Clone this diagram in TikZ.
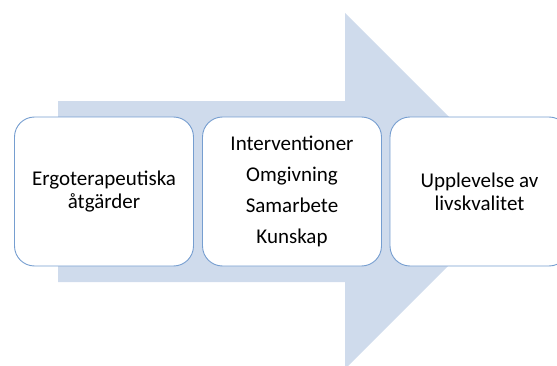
\documentclass[tikz,border=0pt]{standalone}
\usepackage{fontspec}
\setmainfont{Carlito}
\definecolor{arrowfill}{RGB}{207,219,236}
\definecolor{boxline}{RGB}{118,158,208}
\tikzset{
  stagebox/.style={draw=boxline, line width=0.9pt, fill=white, rounded corners=20pt,
    minimum width=179pt, minimum height=149pt, align=center, inner sep=0pt,
    font=\fontsize{21}{23}\selectfont, text=black},
}
\begin{document}
\begin{tikzpicture}[x=1pt,y=1pt]
\useasboundingbox (0,0) rectangle (557,365);
\clip (0,0) rectangle (557,365);
\fill[arrowfill] (58,264) -- (345,264) -- (345,352) -- (523,174) -- (345,-4) -- (345,83) -- (58,83) -- cycle;
\node[stagebox] (a) at (104,173.5) {Ergoterapeutiska\\åtgärder};
\node[stagebox] (b) at (292,173.5) {Interventioner\\[8pt]Omgivning\\[8pt]Samarbete\\[8pt]Kunskap};
\node[stagebox] (c) at (479.5,173.5) {Upplevelse av\\livskvalitet};
\end{tikzpicture}
\end{document}
